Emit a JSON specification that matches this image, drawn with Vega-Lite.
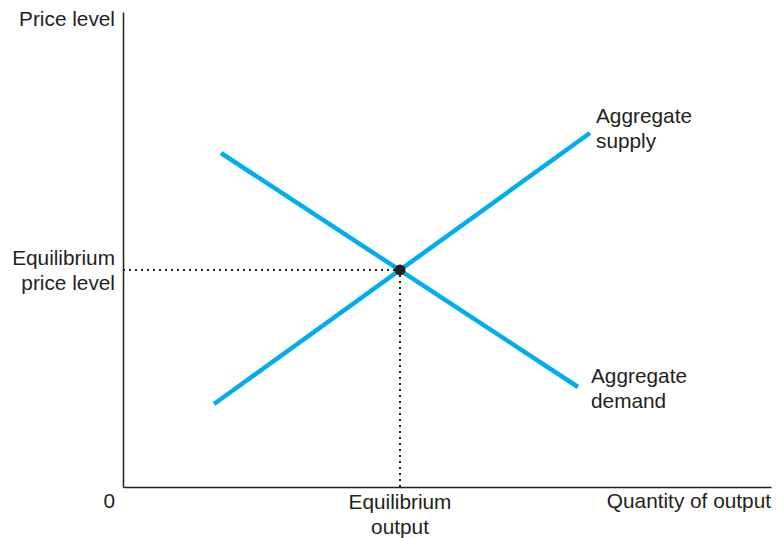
{
  "$schema": "https://vega.github.io/schema/vega-lite/v6.json",
  "width": 648,
  "height": 475,
  "autosize": {"type": "none"},
  "padding": {"left": 123, "top": 12, "right": 13, "bottom": 51},
  "background": "white",
  "config": {"view": {"stroke": null}, "text": {"font": "Liberation Sans", "fontSize": 20.8, "color": "#231f20", "lineBreak": "\n", "lineHeight": 25}},
  "datasets": {
    "curves": [
      {"curve": "Aggregate supply", "q": 91, "p": 83},
      {"curve": "Aggregate supply", "q": 467, "p": 354},
      {"curve": "Aggregate demand", "q": 98, "p": 334},
      {"curve": "Aggregate demand", "q": 455, "p": 100}
    ],
    "guides": [
      {"q": 0, "p": 217, "q2": 277, "p2": 217},
      {"q": 277, "p": 0, "q2": 277, "p2": 217}
    ],
    "eq": [{"q": 277, "p": 217}],
    "rlabels": [
      {"q": -8, "p": 467, "label": "Price level"},
      {"q": -8, "p": 228, "label": "Equilibrium\nprice level"},
      {"q": -8, "p": -15, "label": "0"},
      {"q": 648, "p": -15, "label": "Quantity of output"}
    ],
    "clabels": [
      {"q": 277, "p": -16, "label": "Equilibrium\noutput"}
    ],
    "llabels": [
      {"q": 473, "p": 370, "label": "Aggregate\nsupply"},
      {"q": 468, "p": 110, "label": "Aggregate\ndemand"}
    ]
  },
  "layer": [
    {
      "data": {"name": "guides"},
      "mark": {"type": "rule", "color": "#231f20", "strokeWidth": 2, "strokeDash": [2, 4]},
      "encoding": {
        "x": {"field": "q", "type": "quantitative", "scale": {"domain": [0, 648], "nice": false, "zero": false},
          "axis": {"title": null, "labels": false, "ticks": false, "grid": false, "domainColor": "#231f20", "domainWidth": 1.5}},
        "y": {"field": "p", "type": "quantitative", "scale": {"domain": [0, 475], "nice": false, "zero": false},
          "axis": {"title": null, "labels": false, "ticks": false, "grid": false, "domainColor": "#231f20", "domainWidth": 1.5}},
        "x2": {"field": "q2"},
        "y2": {"field": "p2"}
      }
    },
    {
      "data": {"name": "curves"},
      "mark": {"type": "line", "color": "#00aeef", "strokeWidth": 4.5, "strokeCap": "butt"},
      "encoding": {
        "x": {"field": "q", "type": "quantitative"},
        "y": {"field": "p", "type": "quantitative"},
        "detail": {"field": "curve"}
      }
    },
    {
      "data": {"name": "eq"},
      "mark": {"type": "point", "filled": true, "color": "#231f20", "opacity": 1, "size": 120},
      "encoding": {
        "x": {"field": "q", "type": "quantitative"},
        "y": {"field": "p", "type": "quantitative"}
      }
    },
    {
      "data": {"name": "rlabels"},
      "mark": {"type": "text", "align": "right", "baseline": "middle", "clip": false},
      "encoding": {
        "x": {"field": "q", "type": "quantitative"},
        "y": {"field": "p", "type": "quantitative"},
        "text": {"field": "label"}
      }
    },
    {
      "data": {"name": "clabels"},
      "mark": {"type": "text", "align": "center", "baseline": "middle", "clip": false},
      "encoding": {
        "x": {"field": "q", "type": "quantitative"},
        "y": {"field": "p", "type": "quantitative"},
        "text": {"field": "label"}
      }
    },
    {
      "data": {"name": "llabels"},
      "mark": {"type": "text", "align": "left", "baseline": "middle", "clip": false},
      "encoding": {
        "x": {"field": "q", "type": "quantitative"},
        "y": {"field": "p", "type": "quantitative"},
        "text": {"field": "label"}
      }
    }
  ]
}
